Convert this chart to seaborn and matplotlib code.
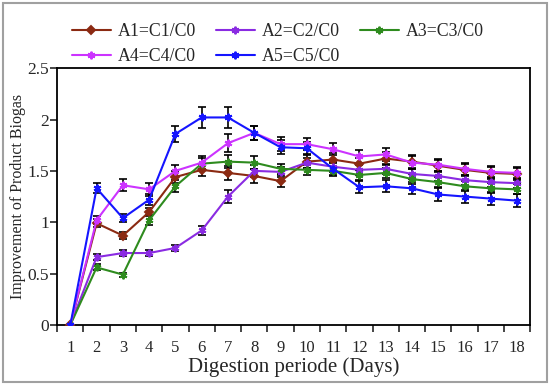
import numpy as np
import pandas as pd
import seaborn as sns
import matplotlib
matplotlib.use("Agg")
import matplotlib.pyplot as plt
from matplotlib.patches import Rectangle

# data
days = list(range(1, 19))
series = ["A1=C1/C0", "A2=C2/C0", "A3=C3/C0", "A4=C4/C0", "A5=C5/C0"]

a1 = [0, 0.99, 0.87, 1.10, 1.44, 1.51, 1.48, 1.45, 1.40, 1.59, 1.61, 1.57, 1.62, 1.59, 1.55, 1.51, 1.48, 1.47]
a2 = [0, 0.66, 0.70, 0.70, 0.75, 0.92, 1.25, 1.50, 1.49, 1.58, 1.54, 1.51, 1.52, 1.47, 1.45, 1.41, 1.39, 1.38]
a3 = [0, 0.56, 0.49, 1.02, 1.35, 1.57, 1.59, 1.58, 1.52, 1.51, 1.50, 1.46, 1.48, 1.42, 1.39, 1.35, 1.33, 1.32]
a4 = [0, 1.02, 1.36, 1.32, 1.50, 1.58, 1.77, 1.87, 1.76, 1.76, 1.71, 1.64, 1.66, 1.58, 1.56, 1.52, 1.49, 1.48]
a5 = [0, 1.33, 1.04, 1.22, 1.86, 2.02, 2.02, 1.87, 1.73, 1.72, 1.52, 1.34, 1.35, 1.33, 1.27, 1.25, 1.23, 1.21]

e1 = [0, 0.04, 0.03, 0.04, 0.06, 0.06, 0.07, 0.07, 0.06, 0.06, 0.06, 0.06, 0.06, 0.06, 0.06, 0.06, 0.06, 0.06]
e2 = [0, 0.03, 0.03, 0.03, 0.03, 0.04, 0.06, 0.06, 0.05, 0.05, 0.05, 0.05, 0.05, 0.05, 0.05, 0.05, 0.05, 0.05]
e3 = [0, 0.03, 0.02, 0.05, 0.06, 0.06, 0.06, 0.06, 0.05, 0.05, 0.05, 0.05, 0.05, 0.05, 0.05, 0.05, 0.05, 0.05]
e4 = [0, 0.04, 0.06, 0.06, 0.06, 0.06, 0.09, 0.07, 0.07, 0.06, 0.06, 0.06, 0.06, 0.06, 0.06, 0.06, 0.06, 0.06]
e5 = [0, 0.05, 0.04, 0.05, 0.08, 0.10, 0.10, 0.07, 0.07, 0.06, 0.06, 0.06, 0.06, 0.06, 0.06, 0.06, 0.06, 0.06]

values = [a1, a2, a3, a4, a5]
errors = [e1, e2, e3, e4, e5]
colors = ["#8B2A12", "#8A2BE2", "#2E8B1E", "#CC33FF", "#1515FF"]
star = (6, 2, 0)
markers = ["D", star, star, star, star]
msizes = [4.5, 5.5, 5.5, 5.5, 5.5]

sns.set_style("ticks")
plt.rcParams["font.family"] = ["Liberation Serif", "DejaVu Serif"]

fig = plt.figure(figsize=(5.5, 3.85), dpi=100)
ax = fig.add_axes([0.104, 0.156, 0.86, 0.667])

for name, v, e, c, m, ms in zip(series, values, errors, colors, markers, msizes):
    ax.errorbar(days, v, yerr=e, fmt="none", ecolor="black", elinewidth=1.2,
                capsize=3, capthick=1.2, zorder=2)
    d = pd.DataFrame({"Day": days, "Value": v})
    sns.lineplot(data=d, x="Day", y="Value", color=c, marker=m, linewidth=1.5,
                 markersize=ms, markeredgewidth=1.4, markeredgecolor=c,
                 ax=ax, zorder=3, label=name, legend=False)

ax.set_xlim(0.5, 18.5)
ax.set_ylim(0, 2.5)
ax.set_xticks(days)
ax.set_xticks(np.arange(0.5, 19, 1), minor=True)
ax.tick_params(axis="x", which="major", length=0, labelsize=12, pad=11)
ax.tick_params(axis="x", which="minor", length=5, width=1.2, direction="out")
ax.set_yticks([0, 0.5, 1, 1.5, 2, 2.5])
ax.set_yticklabels(["0", "0.5", "1", "1.5", "2", "2.5"])
ax.tick_params(axis="y", length=5, width=1.2, direction="out", labelsize=12.5, pad=1)
for s in ax.spines.values():
    s.set_linewidth(1.3)
    s.set_color("black")

ax.set_xlabel("Digestion periode (Days)", fontsize=15, labelpad=1)
ax.set_ylabel("Improvement of Product Biogas", fontsize=11.5, labelpad=1)

# legend filled column-wise, so order handles to read row-wise like the reference
order = [0, 3, 1, 4, 2]
handles = [plt.Line2D([], [], color=colors[i], marker=markers[i], markersize=msizes[i],
                      markeredgewidth=1.4, markeredgecolor=colors[i], linewidth=1.5)
           for i in order]
fig.legend(handles, [series[i] for i in order], loc="center", bbox_to_anchor=(0.505, 0.886),
           ncol=3, frameon=False, fontsize=12.8, handlelength=2.2, handletextpad=0.4,
           columnspacing=1.1, labelspacing=0.45)

fig.patches.append(Rectangle((0.006, 0.008), 0.988, 0.984, transform=fig.transFigure,
                             fill=False, edgecolor="#a0a0a0", linewidth=1.5))

fig.savefig("out.png", dpi=100)
